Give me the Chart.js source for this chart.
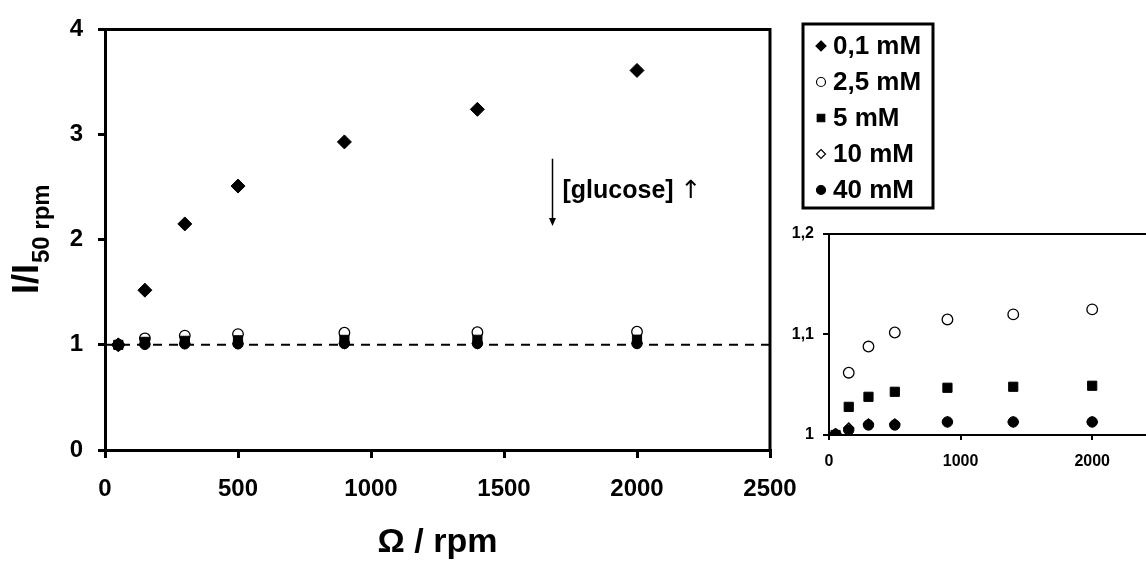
<!DOCTYPE html>
<html>
<head>
<meta charset="utf-8">
<script src="https://cdn.jsdelivr.net/npm/chart.js"></script>
<style>
  html, body { margin: 0; padding: 0; background: #fff; overflow: hidden; }
  #wrap { position: relative; width: 1146px; height: 563px; overflow: hidden; }
  #main { position: absolute; left: 0; top: 0; }
  #inset { position: absolute; left: 770px; top: 210px; }
</style>
</head>
<body>
<div id="wrap">
  <canvas id="main" width="1146" height="563"></canvas>
  <canvas id="inset" width="410" height="270"></canvas>
</div>
<script>
// ---- data ----
const rpm = [50, 150, 300, 500, 900, 1400, 2000];
const glc01 = [1, 1.52, 2.15, 2.51, 2.93, 3.24, 3.61];
const glc25 = [1, 1.062, 1.088, 1.102, 1.115, 1.12, 1.125];
const glc5 = [1, 1.028, 1.038, 1.043, 1.047, 1.048, 1.049];
const glc10 = [1, 1.007, 1.011, 1.011, 1.013, 1.013, 1.013];
const glc40 = [1, 1.005, 1.01, 1.01, 1.013, 1.013, 1.013];
const seriesNames = ['0,1 mM', '2,5 mM', '5 mM', '10 mM', '40 mM'];
const refX = [0, 2500];
const refY = [1, 1];

const mainXTicks = [0, 500, 1000, 1500, 2000, 2500];
const mainYTicks = [0, 1, 2, 3, 4];
const insetXTicks = [0, 1000, 2000];
const insetYTicks = [1, 1.1, 1.2];

// ---- styles ----
const FONT = '"Liberation Sans", Arial, sans-serif';
const series = [glc01, glc25, glc5, glc10, glc40];
const markStyle = [
  { shape: 'rectRot', fill: true,  r: 7,   lr: 5 },
  { shape: 'circle',  fill: false, r: 5.3, lr: 4.5 },
  { shape: 'rect',    fill: true,  r: 6.5, lr: 5 },
  { shape: 'rectRot', fill: false, r: 5,   lr: 4.5 },
  { shape: 'circle',  fill: true,  r: 5.2, lr: 4.5 }
];
const note = { x: 1680, top: 2.77, bottom: 2.13, textY: 2.46 };

function pts(ys) { return rpm.map((x, i) => ({ x: x, y: ys[i] })); }
function comma(v) { return String(v).replace('.', ','); }

function makeDatasets() {
  return series.map((ys, i) => {
    const s = markStyle[i];
    return {
      label: seriesNames[i],
      data: pts(ys),
      pointStyle: s.shape,
      pointRadius: s.r,
      pointBackgroundColor: s.fill ? '#000' : '#fff',
      pointBorderColor: '#000',
      pointBorderWidth: s.fill ? 1 : 1.3,
      showLine: false,
      order: series.length - i   // later series on top, like the original
    };
  });
}

function drawMark(ctx, shape, x, y, r, fill) {
  ctx.beginPath();
  if (shape === 'circle') ctx.arc(x, y, r, 0, Math.PI * 2);
  else if (shape === 'rect') ctx.rect(x - r * 0.75, y - r * 0.75, r * 1.5, r * 1.5);
  else { ctx.moveTo(x, y - r); ctx.lineTo(x + r, y); ctx.lineTo(x, y + r); ctx.lineTo(x - r, y); ctx.closePath(); }
  ctx.fillStyle = fill ? '#000' : '#fff';
  ctx.fill();
  ctx.lineWidth = 1.2;
  ctx.strokeStyle = '#000';
  ctx.stroke();
}

// top + right border of the plot box
const framePlugin = {
  id: 'frame',
  afterDraw(chart, args, opts) {
    const { ctx, chartArea: a } = chart;
    ctx.save();
    ctx.strokeStyle = '#000';
    ctx.lineWidth = opts.width || 2;
    ctx.beginPath();
    ctx.moveTo(a.left - 1, a.top);
    ctx.lineTo(a.right, a.top);
    ctx.lineTo(a.right, a.bottom);
    ctx.stroke();
    ctx.restore();
  }
};

// y title with subscript, arrow note, legend box
const extrasPlugin = {
  id: 'extras',
  afterDraw(chart) {
    const ctx = chart.ctx;
    const xs = chart.scales.x, ys = chart.scales.y;
    ctx.save();
    ctx.fillStyle = '#000';
    ctx.strokeStyle = '#000';

    // y axis title  I/I50 rpm
    const midY = (chart.chartArea.top + chart.chartArea.bottom) / 2;
    ctx.save();
    ctx.font = 'bold 36px ' + FONT;
    const w1 = ctx.measureText('I/I').width;
    ctx.font = 'bold 24px ' + FONT;
    const w2 = ctx.measureText('50 rpm').width;
    ctx.translate(38, midY + (w1 + w2) / 2);
    ctx.rotate(-Math.PI / 2);
    ctx.textBaseline = 'alphabetic';
    ctx.textAlign = 'left';
    ctx.font = 'bold 36px ' + FONT;
    ctx.fillText('I/I', 0, 0);
    ctx.font = 'bold 24px ' + FONT;
    ctx.fillText('50 rpm', w1 + 1, 11);
    ctx.restore();

    // arrow + [glucose] note
    const ax = Math.round(xs.getPixelForValue(note.x)) + 0.5;
    const y0 = ys.getPixelForValue(note.top);
    const y1 = ys.getPixelForValue(note.bottom);
    ctx.lineWidth = 1.5;
    ctx.beginPath();
    ctx.moveTo(ax, y0);
    ctx.lineTo(ax, y1 - 6);
    ctx.stroke();
    ctx.beginPath();
    ctx.moveTo(ax - 3.5, y1 - 8);
    ctx.lineTo(ax + 3.5, y1 - 8);
    ctx.lineTo(ax, y1);
    ctx.closePath();
    ctx.fill();
    const ty = ys.getPixelForValue(note.textY);
    ctx.textBaseline = 'middle';
    ctx.textAlign = 'left';
    ctx.font = 'bold 25px ' + FONT;
    ctx.fillText('[glucose]', ax + 10, ty);
    const gw = ctx.measureText('[glucose] ').width;
    ctx.font = '25px "DejaVu Sans", ' + FONT;
    ctx.fillText('\u2191', ax + 10 + gw, ty);

    // legend
    ctx.lineWidth = 3;
    ctx.strokeRect(803, 24, 130, 184);
    ctx.font = 'bold 26px ' + FONT;
    seriesNames.forEach((name, i) => {
      const ry = 46 + i * 36;
      const s = markStyle[i];
      drawMark(ctx, s.shape, 821, ry, s.lr, s.fill);
      ctx.fillStyle = '#000';
      ctx.textBaseline = 'middle';
      ctx.fillText(name, 833, ry + 1);
    });
    ctx.restore();
  }
};

function fixedTicks(list) {
  return scale => { scale.ticks = list.map(v => ({ value: v })); };
}

Chart.defaults.font.family = FONT;
Chart.defaults.color = '#000';

// ---- main chart ----
const mainSets = makeDatasets();
mainSets.push({
  label: 'ref',
  data: refX.map((x, i) => ({ x: x, y: refY[i] })),
  showLine: true,
  borderColor: '#000',
  borderWidth: 2,
  borderDash: [9, 7],
  pointRadius: 0,
  order: 10
});

new Chart(document.getElementById('main'), {
  type: 'scatter',
  data: { datasets: mainSets },
  options: {
    responsive: false,
    animation: false,
    events: [],
    layout: { padding: { top: 27, right: 376, left: 0, bottom: 0 } },
    scales: {
      x: {
        type: 'linear',
        min: 0, max: 2500,
        afterBuildTicks: fixedTicks(mainXTicks),
        afterFit: s => { s.height = 113; },
        grid: { drawOnChartArea: false, drawTicks: true, tickLength: 8, color: '#000', lineWidth: 3 },
        border: { color: '#000', width: 3 },
        ticks: { font: { size: 24, weight: 'bold' }, padding: 17, maxRotation: 0, callback: v => String(v) },
        title: { display: true, text: '\u03A9 / rpm', font: { size: 34, weight: 'bold' }, padding: 0 }
      },
      y: {
        type: 'linear',
        min: 0, max: 4,
        afterBuildTicks: fixedTicks(mainYTicks),
        afterFit: s => { s.width = 105; },
        grid: { drawOnChartArea: false, drawTicks: true, tickLength: 7, color: '#000', lineWidth: 3 },
        border: { color: '#000', width: 3 },
        ticks: { font: { size: 24, weight: 'bold' }, padding: 15, callback: v => String(v) }
      }
    },
    plugins: {
      legend: { display: false },
      tooltip: { enabled: false },
      frame: { width: 3 }
    }
  },
  plugins: [framePlugin, extrasPlugin]
});

// ---- inset ----
new Chart(document.getElementById('inset'), {
  type: 'scatter',
  data: { datasets: makeDatasets() },
  options: {
    responsive: false,
    animation: false,
    events: [],
    layout: { padding: { top: 24, right: 22, left: 0, bottom: 0 } },
    scales: {
      x: {
        type: 'linear',
        min: 0, max: 2500,
        afterBuildTicks: fixedTicks(insetXTicks),
        afterFit: s => { s.height = 45; },
        grid: { drawOnChartArea: false, drawTicks: true, tickLength: 5, color: '#000', lineWidth: 2 },
        border: { color: '#000', width: 2 },
        ticks: { font: { size: 16, weight: 'bold' }, padding: 12, maxRotation: 0, callback: v => String(v) }
      },
      y: {
        type: 'linear',
        min: 1, max: 1.2,
        afterBuildTicks: fixedTicks(insetYTicks),
        afterFit: s => { s.width = 59; },
        grid: { drawOnChartArea: false, drawTicks: true, tickLength: 6, color: '#000', lineWidth: 2 },
        border: { color: '#000', width: 2 },
        ticks: { font: { size: 16, weight: 'bold' }, padding: 9, callback: v => comma(v) }
      }
    },
    plugins: {
      legend: { display: false },
      tooltip: { enabled: false },
      frame: { width: 2 }
    }
  },
  plugins: [framePlugin]
});
</script>
</body>
</html>
